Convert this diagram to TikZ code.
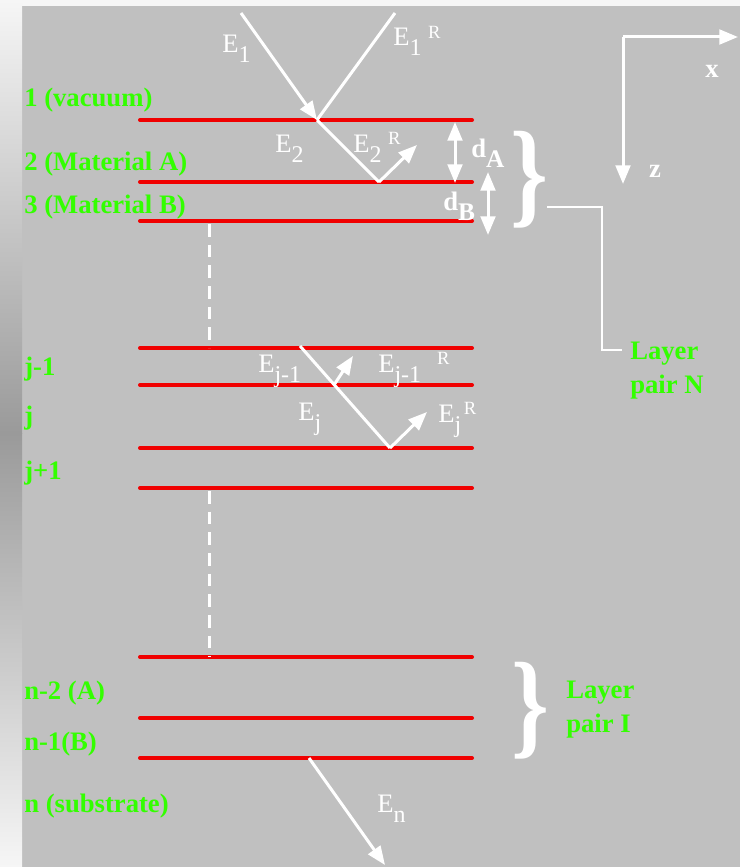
\documentclass[tikz,border=0pt]{standalone}
\usepackage{fontspec}
\setmainfont{Liberation Serif}
\usepackage{graphicx}
\usetikzlibrary{arrows.meta}
\definecolor{panelgray}{RGB}{192,192,192}
\definecolor{layerred}{RGB}{240,0,0}
\definecolor{labelgreen}{RGB}{51,255,0}
\definecolor{stripdark}{RGB}{154,154,154}
\definecolor{striplight}{RGB}{246,246,246}

% field label: E, subscript, superscript
\newcommand{\fld}[3][5pt]{E\raisebox{-7.5pt}{\fontsize{18}{18}\selectfont #2}\hspace{#1}\raisebox{5.5pt}{\fontsize{14}{14}\selectfont #3}}
\newcommand{\thk}[1]{d\raisebox{-7.5pt}{\fontsize{19}{19}\selectfont #1}}

\begin{document}
\begin{tikzpicture}[
    x=0.75pt,y=-0.75pt,
    layer/.style={
        draw=layerred,
        line width=3pt,
        line cap=round
    },
    gap/.style={
        draw=white,
        line width=2.25pt,
        dash pattern=on 9.5pt off 6pt
    },
    ray/.style={
        draw=white,
        line width=2.25pt
    },
    arr/.style={
        ray,
        -{Triangle[length=14pt,width=11pt]}
    },
    dblarr/.style={
        ray,
        {Triangle[length=14pt,width=11pt]}-{Triangle[length=14pt,width=11pt]}
    },
    mat/.style={
        anchor=base west,
        inner sep=0pt,
        text=labelgreen,
        align=left,
        font=\fontsize{20}{25.5}\selectfont\bfseries
    },
    fld/.style={
        anchor=base west,
        inner sep=0pt,
        text=white,
        font=\fontsize{20}{24}\selectfont
    },
    brc/.style={
        inner sep=0pt,
        text=white,
        font=\fontsize{72}{72}\selectfont\bfseries
    }
]
\useasboundingbox (0,0) rectangle (740,867);

% ============================================================
% BACKGROUND
% ============================================================
\fill[panelgray] (22,6) rectangle (740,867);
\fill[striplight] (22,0) rectangle (740,6);
\shade[top color=striplight,bottom color=stripdark] (0,0) rectangle (22,433);
\shade[top color=stripdark,bottom color=striplight] (0,433) rectangle (22,867);

% ============================================================
% INTERFACES
% ============================================================
\foreach \n/\y in {1/120,2/182,3/221,4/348,5/385,6/448,7/488,8/657,9/718,10/758}{
    \coordinate (l\n w) at (140,\y);
    \coordinate (l\n e) at (472,\y);
    \draw[layer] (l\n w) -- (l\n e);
}

% skipped layers
\coordinate (gapAtop) at (209,224);
\coordinate (gapAbot) at (209,348);
\coordinate (gapBtop) at (209,491);
\coordinate (gapBbot) at (209,657);
\draw[gap] (gapAtop) -- (gapAbot);
\draw[gap] (gapBtop) -- (gapBbot);

% ============================================================
% RAYS
% ============================================================
\coordinate (src1) at (241,13);
\coordinate (hit1) at (317,120);
\coordinate (refl1) at (395,13);
\coordinate (hit2) at (379,182);
\coordinate (out2) at (417,145);
\draw[arr] (src1) -- (hit1);
\draw[ray] (hit1) -- (refl1);
\draw[ray] (hit1) -- (hit2);
\draw[arr] (hit2) -- (out2);

\coordinate (srcj) at (300,346);
\coordinate (hitj) at (334,385);
\coordinate (outj) at (353,356);
\coordinate (hitk) at (390,448);
\coordinate (outk) at (427,412);
\draw[ray] (srcj) -- (hitk);
\draw[arr] (hitj) -- (outj);
\draw[arr] (hitk) -- (outk);

\coordinate (hitn) at (309,758);
\coordinate (outn) at (385,865);
\draw[arr] (hitn) -- (outn);

% thicknesses
\coordinate (dAtop) at (455,122);
\coordinate (dAbot) at (455,183);
\coordinate (dBtop) at (488,172);
\coordinate (dBbot) at (488,235);
\draw[dblarr] (dAtop) -- (dAbot);
\draw[dblarr] (dBtop) -- (dBbot);

% axes
\coordinate (orig) at (623,37);
\coordinate (xend) at (738,37);
\coordinate (zend) at (623,184);
\draw[arr] (orig) -- (xend);
\draw[arr] (orig) -- (zend);
\node[fld,anchor=center,font=\fontsize{20}{24}\selectfont\bfseries] (xlbl) at (712,71) {x};
\node[fld,anchor=center,font=\fontsize{20}{24}\selectfont\bfseries] (zlbl) at (655,171) {z};

% ============================================================
% LAYER PAIRS
% ============================================================
\node[brc] (braceN) at (529,180) {\scalebox{1}[1.22]{\}}};
\node[brc] (braceI) at (530,711) {\scalebox{1}[1.22]{\}}};
\coordinate (pairNa) at (547,207);
\coordinate (pairNb) at (602,350);
\coordinate (pairNc) at (622,350);
\draw[ray,line width=2pt] (pairNa) -| (pairNb) -- (pairNc);
\node[mat] (pairN) at (630,393) {Layer\\pair N};
\node[mat] (pairI) at (566,732) {Layer\\pair I};

% ============================================================
% MEDIA
% ============================================================
\node[mat] (m1) at (24,106) {1 (vacuum)};
\node[mat] (m2) at (24,170) {2 (Material A)};
\node[mat] (m3) at (24,213) {3 (Material B)};
\node[mat] (mj1) at (24,375) {j-1};
\node[mat] (mj) at (24,424) {j};
\node[mat] (mj2) at (24,479) {j+1};
\node[mat] (mn2) at (24,699) {n-2 (A)};
\node[mat] (mn1) at (24,750) {n-1(B)};
\node[mat] (mn) at (24,812) {n (substrate)};

% ============================================================
% FIELDS
% ============================================================
\node[fld] (e1) at (222,53) {\fld{1}{}};
\node[fld] (e1r) at (393,46) {\fld{1}{R}};
\node[fld] (e2) at (275,152) {\fld{2}{}};
\node[fld] (e2r) at (353,152) {\fld{2}{R}};
\node[fld,font=\fontsize{20}{24}\selectfont\bfseries] (da) at (471,157) {\thk{A}};
\node[fld,font=\fontsize{20}{24}\selectfont\bfseries] (db) at (443,210) {\thk{B}};
\node[fld] (ej1) at (258,372) {\fld{j-1}{}};
\node[fld] (ej1r) at (378,372) {\fld[12pt]{j-1}{R}};
\node[fld] (ej) at (298,420) {\fld{j}{}};
\node[fld] (ejr) at (438,422) {\fld[2pt]{j}{R}};
\node[fld] (en) at (377,812) {\fld{n}{}};

\end{tikzpicture}
\end{document}
